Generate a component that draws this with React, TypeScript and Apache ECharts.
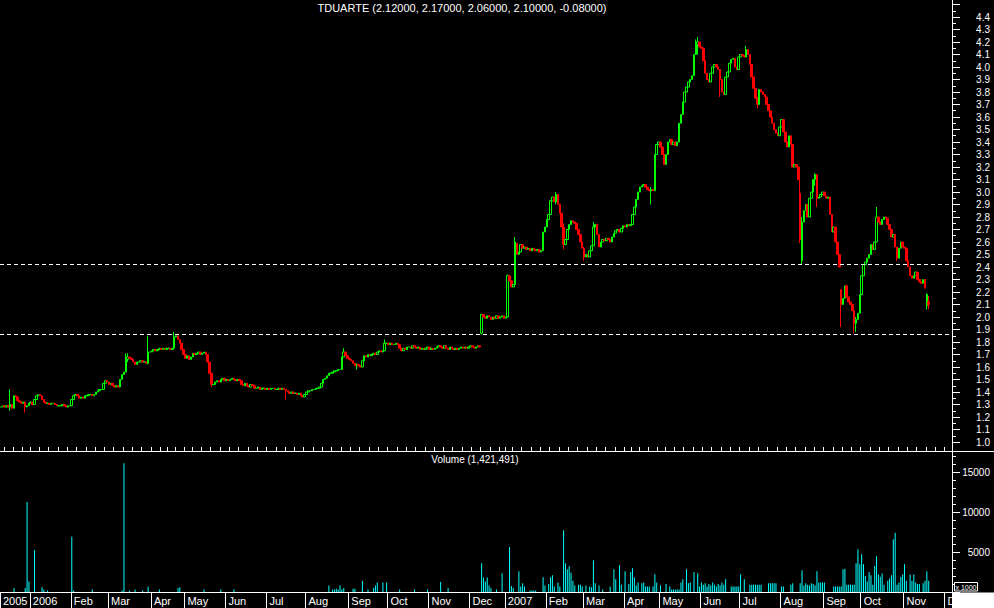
import React, { useEffect, useRef } from 'react';
import * as echarts from 'echarts';

const TITLE = 'TDUARTE (2.12000, 2.17000, 2.06000, 2.10000, -0.08000)';
const VOLUME_TITLE = 'Volume (1,421,491)';
const MONTHS = ['Jan', 'Feb', 'Mar', 'Apr', 'May', 'Jun', 'Jul', 'Aug', 'Sep', 'Oct', 'Nov', 'Dec'];
const HOLIDAYS = ['2005-12-26', '2006-04-14', '2006-04-17', '2006-05-01', '2006-12-25', '2006-12-26', '2007-01-01', '2007-04-06', '2007-04-09', '2007-05-01'];
const PRICE_TICKS_MIN = 1.0;
const PRICE_TICKS_MAX = 4.5;
const SUPPORT_LINES = [2.42, 1.863];

// daily closes (trading days from 2005-12-08)
const CLOSE = [
  1.28, 1.29, 1.28, 1.29, 1.28, 1.30, 1.27, 1.37, 1.36, 1.33,
  1.32, 1.31, 1.32, 1.28, 1.29, 1.31, 1.32, 1.30, 1.34, 1.37,
  1.38, 1.37, 1.34, 1.32, 1.31, 1.31, 1.30, 1.31, 1.31, 1.30,
  1.29, 1.29, 1.29, 1.30, 1.29, 1.28, 1.29, 1.29, 1.34, 1.37,
  1.38, 1.37, 1.35, 1.36, 1.35, 1.37, 1.37, 1.38, 1.38, 1.37,
  1.38, 1.40, 1.41, 1.42, 1.42, 1.47, 1.49, 1.48, 1.46, 1.47,
  1.45, 1.44, 1.45, 1.44, 1.50, 1.54, 1.56, 1.66, 1.68, 1.67,
  1.66, 1.64, 1.62, 1.64, 1.64, 1.65, 1.64, 1.64, 1.63, 1.72,
  1.72, 1.73, 1.74, 1.73, 1.74, 1.75, 1.74, 1.75, 1.74, 1.75,
  1.75, 1.74, 1.75, 1.84, 1.85, 1.82, 1.79, 1.74, 1.70, 1.67,
  1.69, 1.66, 1.68, 1.71, 1.70, 1.71, 1.72, 1.70, 1.71, 1.72,
  1.70, 1.64, 1.55, 1.46, 1.46, 1.48, 1.49, 1.48, 1.50, 1.51,
  1.49, 1.50, 1.49, 1.50, 1.51, 1.50, 1.49, 1.50, 1.49, 1.46,
  1.45, 1.47, 1.45, 1.44, 1.46, 1.45, 1.43, 1.43, 1.44, 1.42,
  1.43, 1.43, 1.42, 1.43, 1.42, 1.43, 1.43, 1.42, 1.42, 1.43,
  1.42, 1.43, 1.42, 1.41, 1.40, 1.39, 1.40, 1.39, 1.39, 1.38,
  1.39, 1.37, 1.36, 1.38, 1.40, 1.41, 1.41, 1.42, 1.42, 1.43,
  1.43, 1.44, 1.47, 1.50, 1.51, 1.53, 1.55, 1.55, 1.56, 1.57,
  1.57, 1.58, 1.58, 1.68, 1.72, 1.69, 1.67, 1.66, 1.65, 1.63,
  1.61, 1.62, 1.61, 1.60, 1.65, 1.69, 1.68, 1.70, 1.69, 1.70,
  1.71, 1.70, 1.72, 1.73, 1.72, 1.73, 1.79, 1.79, 1.78, 1.79,
  1.78, 1.78, 1.79, 1.78, 1.75, 1.73, 1.75, 1.74, 1.76, 1.76,
  1.75, 1.77, 1.76, 1.75, 1.76, 1.74, 1.75, 1.74, 1.75, 1.76,
  1.74, 1.75, 1.74, 1.75, 1.76, 1.77, 1.76, 1.75, 1.77, 1.75,
  1.74, 1.76, 1.75, 1.74, 1.75, 1.74, 1.75, 1.76, 1.75, 1.76,
  1.75, 1.76, 1.77, 1.76, 1.75, 1.76, 1.77, 1.76, 2.02, 2.00,
  1.99, 2.01, 2.00, 1.98, 2.00, 1.99, 2.01, 1.99, 2.00, 2.01,
  1.99, 2.00, 2.33, 2.29, 2.24, 2.26, 2.60, 2.50, 2.52, 2.58,
  2.55, 2.56, 2.54, 2.55, 2.53, 2.55, 2.54, 2.53, 2.54, 2.52,
  2.53, 2.68, 2.72, 2.78, 2.82, 2.93, 2.96, 2.92, 2.98, 2.90,
  2.83, 2.72, 2.58, 2.62, 2.70, 2.74, 2.77, 2.76, 2.75, 2.70,
  2.66, 2.60, 2.55, 2.48, 2.50, 2.48, 2.53, 2.57, 2.72, 2.74,
  2.66, 2.56, 2.60, 2.62, 2.61, 2.63, 2.62, 2.60, 2.64, 2.67,
  2.69, 2.70, 2.68, 2.71, 2.73, 2.72, 2.74, 2.73, 2.74, 2.82,
  2.88, 2.94, 3.00, 3.04, 3.05, 3.06, 3.04, 3.02, 3.01, 3.02,
  3.01, 3.30, 3.38, 3.40, 3.36, 3.30, 3.22, 3.30, 3.40, 3.42,
  3.38, 3.40, 3.37, 3.40, 3.55, 3.62, 3.72, 3.80, 3.84, 3.88,
  3.90, 3.93, 4.10, 4.18, 4.20, 4.16, 4.15, 4.05, 3.95, 3.90,
  3.88, 3.95, 4.00, 4.02, 4.00, 3.98, 3.90, 3.80, 3.78, 3.92,
  3.96, 4.03, 4.06, 4.07, 4.00, 3.98, 4.08, 4.10, 4.09, 4.08,
  4.14, 4.10, 4.02, 3.92, 3.83, 3.75, 3.70, 3.82, 3.80, 3.78,
  3.76, 3.70, 3.65, 3.60, 3.55, 3.50, 3.47, 3.45, 3.52, 3.58,
  3.48, 3.40, 3.36, 3.45, 3.38, 3.20, 3.22, 3.20, 3.10, 2.62,
  2.76, 2.85, 2.90, 2.80, 2.95, 3.00, 3.10, 3.14, 2.95, 2.96,
  2.98, 3.00, 2.97, 2.95, 2.96, 2.82, 2.68, 2.72, 2.60, 2.50,
  2.40, 2.10, 2.15, 2.25, 2.16, 2.12, 2.10, 2.05, 1.95, 1.98,
  2.03, 2.18, 2.33, 2.42, 2.44, 2.47, 2.50, 2.58, 2.54, 2.60,
  2.80, 2.76, 2.74, 2.78, 2.80, 2.79, 2.74, 2.70, 2.64, 2.66,
  2.56, 2.47, 2.55, 2.60, 2.56, 2.55, 2.45, 2.40, 2.33, 2.31,
  2.33, 2.36, 2.30, 2.28, 2.27, 2.30, 2.23, 2.18, 2.10,
];

// opening gaps: [index, open]  (other days open at the previous close)
const OPEN_GAPS = [
  [258, 1.87], [277, 2.59], [429, 2.99], [430, 2.45], [451, 2.22], [497, 2.09], [498, 2.12],
];

// wicks: [index, high, low]
const WICKS = [
  [5, 1.42, 1.25], [13, 1.30, 1.235], [67, 1.71, 1.60], [68, 1.71, 1.64], [79, 1.85, 1.62],
  [93, 1.88, 1.75], [113, 1.55, 1.44], [153, 1.42, 1.34], [184, 1.75, 1.68], [191, 1.63, 1.58],
  [206, 1.82, 1.73], [258, 2.02, 1.86], [272, 2.34, 2.00], [276, 2.64, 2.26], [298, 3.00, 2.90],
  [302, 2.75, 2.54], [313, 2.56, 2.45], [318, 2.76, 2.57], [349, 3.04, 2.90], [373, 4.22, 4.10],
  [374, 4.24, 4.10], [386, 3.98, 3.76], [400, 4.17, 4.08], [406, 3.76, 3.67], [429, 3.10, 2.59],
  [430, 2.80, 2.42], [437, 3.15, 3.05], [438, 3.14, 2.88], [451, 2.22, 1.92], [458, 2.05, 1.87],
  [459, 2.00, 1.88], [470, 2.88, 2.60], [481, 2.56, 2.45], [497, 2.19, 2.06], [498, 2.17, 2.06],
];

// daily volume (x 1000)
const VOLUME = [
  0, 0, 0, 0, 0, 0, 0, 500, 0, 0,
  0, 0, 0, 500, 11250, 1300, 0, 0, 5250, 0,
  0, 0, 600, 300, 0, 200, 0, 0, 0, 0,
  0, 0, 0, 0, 0, 0, 0, 0, 6900, 200,
  0, 0, 0, 0, 0, 0, 0, 0, 0, 300,
  0, 0, 0, 0, 0, 0, 0, 0, 0, 0,
  0, 0, 0, 0, 0, 200, 16100, 0, 0, 200,
  0, 0, 300, 0, 0, 0, 200, 0, 0, 700,
  0, 0, 0, 0, 0, 300, 0, 0, 0, 0,
  0, 0, 0, 0, 0, 500, 600, 0, 0, 0,
  0, 0, 0, 0, 0, 0, 0, 0, 0, 300,
  0, 0, 0, 0, 0, 0, 0, 0, 300, 0,
  0, 0, 0, 0, 0, 300, 0, 0, 0, 0,
  0, 0, 0, 0, 0, 0, 0, 0, 0, 0,
  0, 0, 0, 0, 0, 0, 0, 0, 0, 0,
  0, 0, 0, 0, 0, 0, 0, 0, 0, 0,
  0, 0, 0, 0, 0, 0, 0, 0, 0, 0,
  0, 0, 0, 0, 0, 0, 800, 0, 300, 300,
  400, 300, 800, 300, 500, 0, 0, 0, 0, 400,
  400, 0, 0, 0, 1375, 0, 0, 300, 0, 0,
  500, 800, 1200, 0, 0, 1200, 0, 1200, 0, 0,
  0, 0, 0, 0, 300, 0, 0, 0, 0, 0,
  0, 0, 300, 0, 0, 0, 0, 0, 0, 300,
  0, 0, 0, 0, 0, 0, 1250, 0, 0, 0,
  500, 0, 0, 0, 0, 0, 0, 0, 0, 0,
  0, 0, 0, 0, 0, 0, 0, 0, 3590, 1800,
  1300, 1800, 800, 500, 0, 0, 300, 0, 0, 2340,
  0, 0, 0, 5620, 750, 500, 0, 0, 2580, 700,
  1080, 700, 0, 0, 200, 200, 200, 200, 0, 0,
  0, 1840, 800, 0, 1000, 1840, 2090, 700, 0, 1200,
  700, 0, 7710, 3590, 2840, 3210, 2420, 1400, 800, 0,
  900, 900, 700, 0, 800, 0, 700, 600, 3960, 1100,
  0, 800, 0, 300, 0, 0, 0, 700, 0, 2840,
  1600, 0, 3330, 900, 0, 2580, 0, 1000, 2500, 2960,
  1800, 800, 1200, 0, 1100, 1200, 700, 700, 700, 0,
  700, 2210, 1200, 0, 800, 0, 0, 1000, 0, 700,
  300, 300, 300, 300, 300, 1200, 1600, 0, 2840, 1100,
  1200, 0, 2500, 0, 2340, 700, 1200, 900, 1100, 700,
  1000, 800, 1200, 900, 700, 1000, 800, 1200, 900, 1600,
  0, 0, 700, 700, 700, 700, 700, 2210, 0, 1600,
  0, 0, 900, 900, 900, 900, 900, 900, 900, 0,
  0, 0, 1100, 1100, 1100, 1100, 1100, 0, 0, 700,
  700, 0, 0, 0, 900, 1100, 0, 0, 0, 1100,
  2710, 800, 1100, 900, 800, 1100, 1000, 800, 2580, 1200,
  1200, 1200, 1200, 0, 0, 0, 0, 700, 700, 700,
  700, 700, 2840, 2920, 900, 900, 900, 900, 900, 3590,
  5340, 3460, 4710, 3460, 2000, 1300, 2500, 2100, 900, 3250,
  4460, 2200, 1900, 2300, 900, 0, 1400, 1700, 2100, 6590,
  7420, 900, 1200, 1900, 2200, 3460, 1400, 0, 2200, 1400,
  2200, 1200, 1000, 1000, 0, 1100, 1400, 2580, 1421,
];

function buildDays(): string[] {
  const out: string[] = [];
  const d = new Date(Date.UTC(2005, 11, 8));
  const end = Date.UTC(2007, 11, 6);
  while (d.getTime() <= end) {
    const wd = d.getUTCDay();
    const s = d.toISOString().slice(0, 10);
    if (wd !== 0 && wd !== 6 && HOLIDAYS.indexOf(s) < 0) out.push(s);
    d.setUTCDate(d.getUTCDate() + 1);
  }
  return out;
}

export default function App() {
  const ref = useRef<HTMLDivElement | null>(null);

  useEffect(() => {
    if (!ref.current) return;
    const chart = echarts.init(ref.current, null, { renderer: 'svg' });
    const days = buildDays();

    const monthStart = new Set<number>();
    const weekStart = new Set<number>();
    const labelOf: Record<number, string> = {};
    days.forEach((s, i) => {
      const y = s.slice(0, 4);
      const m = parseInt(s.slice(5, 7), 10);
      if (i === 0) {
        monthStart.add(0);
        labelOf[0] = y;
      } else {
        const pm = parseInt(days[i - 1].slice(5, 7), 10);
        if (pm !== m) {
          monthStart.add(i);
          labelOf[i] = m === 1 ? y : MONTHS[m - 1];
        }
        const wd = new Date(s + 'T00:00:00Z').getUTCDay();
        const pwd = new Date(days[i - 1] + 'T00:00:00Z').getUTCDay();
        if (wd < pwd) weekStart.add(i);
      }
    });

    const openMap: Record<number, number> = {};
    OPEN_GAPS.forEach(([i, o]) => (openMap[i] = o));
    const wickMap: Record<number, [number, number]> = {};
    WICKS.forEach(([i, h, l]) => (wickMap[i] = [h, l]));

    const candles = CLOSE.map((c, i) => {
      const o = openMap[i] !== undefined ? openMap[i] : i > 0 ? CLOSE[i - 1] : c;
      let hi = Math.max(o, c);
      let lo = Math.min(o, c);
      if (wickMap[i]) {
        hi = Math.max(hi, wickMap[i][0]);
        lo = Math.min(lo, wickMap[i][1]);
      }
      return [o, c, lo, hi];
    });

    const font = 'Liberation Sans, Arial, sans-serif';
    const white = '#ffffff';

    chart.setOption({
      animation: false,
      backgroundColor: '#000000',
      grid: [
        { left: 0, right: 42, top: 4.5, height: 437.5 },
        { left: 0, right: 42, top: 451, height: 141 },
      ],
      xAxis: [
        {
          type: 'category', gridIndex: 0, data: days, boundaryGap: true,
          axisLine: { show: false }, axisTick: { show: false }, axisLabel: { show: false }, splitLine: { show: false },
        },
        {
          type: 'category', gridIndex: 1, data: days, boundaryGap: true,
          axisLine: { show: true, lineStyle: { color: white, width: 1 } },
          axisTick: { show: true, length: 16, lineStyle: { color: white }, interval: (i: number) => monthStart.has(i) },
          axisLabel: {
            show: true, color: white, fontFamily: font, fontSize: 11, align: 'left', margin: 3,
            padding: [0, 0, 0, 2],
            interval: (i: number) => monthStart.has(i),
            formatter: (_v: string, i: number) => labelOf[i] || '',
          },
          splitLine: { show: false },
        },
        {
          type: 'category', gridIndex: 1, data: days, boundaryGap: true,
          axisLine: { show: false },
          axisTick: { show: true, length: 4, lineStyle: { color: white }, interval: (i: number) => weekStart.has(i) },
          axisLabel: { show: false }, splitLine: { show: false },
        },
      ],
      yAxis: [
        {
          type: 'value', gridIndex: 0, position: 'right', min: PRICE_TICKS_MIN, max: PRICE_TICKS_MAX, interval: 0.1,
          axisLine: { show: false },
          axisTick: { show: true, length: 8, lineStyle: { color: white } },
          minorTick: { show: true, splitNumber: 2, length: 4, lineStyle: { color: white } },
          splitLine: { show: false },
          axisLabel: {
            color: white, fontFamily: font, fontSize: 10, align: 'right', margin: 38,
            showMinLabel: true,
            formatter: (v: number) => (Math.abs(v - PRICE_TICKS_MAX) < 1e-6 ? '' : v.toFixed(1)),
          },
        },
        {
          type: 'value', gridIndex: 1, position: 'right', min: 0, max: 17625, interval: 5000,
          axisLine: { show: false },
          axisTick: { show: true, length: 8, lineStyle: { color: white } },
          minorTick: { show: true, splitNumber: 5, length: 4, lineStyle: { color: white } },
          splitLine: { show: false },
          axisLabel: {
            color: white, fontFamily: font, fontSize: 10, align: 'right', margin: 38,
            showMaxLabel: false,
            formatter: (v: number) => (v === 0 || v % 5000 !== 0 ? '' : String(v)),
          },
        },
      ],
      series: [
        {
          type: 'candlestick', xAxisIndex: 0, yAxisIndex: 0, data: candles, barWidth: 2,
          itemStyle: { color: '#000000', borderColor: '#00ff00', color0: '#ff0000', borderColor0: '#ff0000', borderWidth: 1 },
          markLine: {
            silent: true, symbol: 'none', label: { show: false },
            lineStyle: { color: white, type: [4, 3], width: 1 },
            data: SUPPORT_LINES.map((v) => ({ yAxis: v })),
          },
        },
        {
          type: 'bar', xAxisIndex: 1, yAxisIndex: 1, data: VOLUME, barWidth: 1,
          itemStyle: { color: '#00ffff' },
        },
      ],
      graphic: [
        { type: 'line', z: 100, shape: { x1: 0, y1: 451.5, x2: 994, y2: 451.5 }, style: { stroke: white, lineWidth: 1 } },
        { type: 'line', z: 100, shape: { x1: 952.5, y1: 0, x2: 952.5, y2: 592 }, style: { stroke: white, lineWidth: 1 } },
        { type: 'rect', z: 100, shape: { x: 953, y: 592.5, width: 41, height: 16 }, style: { fill: white } },
        { type: 'rect', z: 100, shape: { x: 954.5, y: 582.5, width: 23, height: 8.5 }, style: { fill: '#000', stroke: white, lineWidth: 1 } },
        { type: 'text', z: 101, x: 966, y: 587, style: { text: 'x 1000', fill: white, font: '7px ' + font, textAlign: 'center', textVerticalAlign: 'middle' } },
        { type: 'text', z: 100, x: 462, y: 8, style: { text: TITLE, fill: white, font: '11px ' + font, textAlign: 'center', textVerticalAlign: 'middle' } },
        { type: 'text', z: 100, x: 475, y: 459, style: { text: VOLUME_TITLE, fill: white, font: '10px ' + font, textAlign: 'center', textVerticalAlign: 'middle' } },
      ],
    });

    return () => chart.dispose();
  }, []);

  return (
    <div
      ref={ref}
      style={{ position: 'absolute', left: 0, top: 0, width: 994, height: 608, background: '#000' }}
    />
  );
}
